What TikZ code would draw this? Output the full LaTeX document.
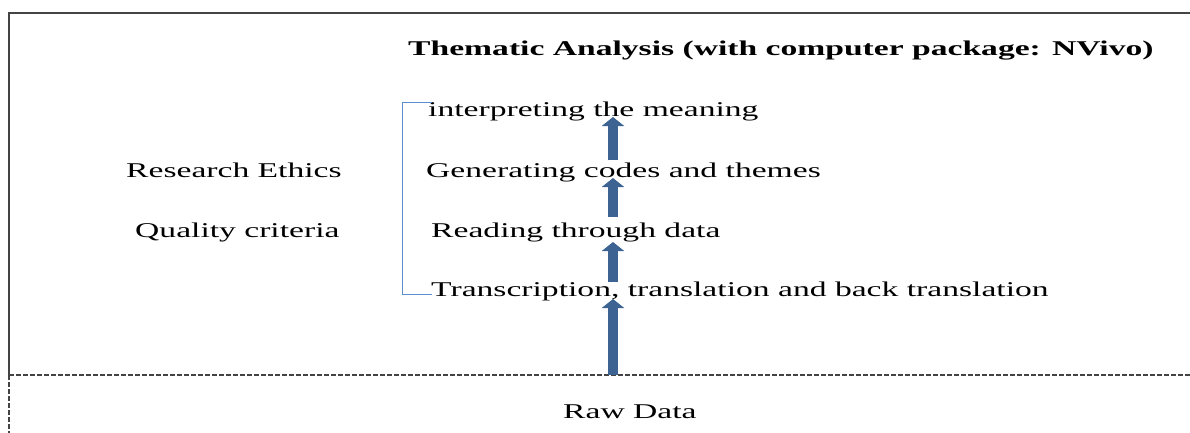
\documentclass[tikz,border=0pt]{standalone}
\usepackage{fontspec}
\setmainfont{Liberation Serif}[FakeStretch=1.6]
\usetikzlibrary{arrows.meta}
\definecolor{arrowblue}{HTML}{3D6392}
\definecolor{brackblue}{HTML}{5B8FD0}
\definecolor{frame}{HTML}{444444}
\tikzset{
  txt/.style={anchor=base west, inner sep=0pt, font=\fontsize{21}{25}\selectfont},
  ttl/.style={anchor=base west, inner sep=0pt, font=\fontsize{21}{25}\selectfont\bfseries},
  bigarrow/.style={draw=arrowblue, line width=10pt, -{Triangle[width=22pt,length=9pt]}},
  frameline/.style={draw=frame, line width=1.5pt},
  dashline/.style={draw=frame, line width=1.3pt, dash pattern=on 5pt off 2pt}
}
\begin{document}
\begin{tikzpicture}[x=1pt,y=1pt]
\useasboundingbox (0,0) rectangle (1190,-433);
% frame
\coordinate (tl) at (9,-13);
\coordinate (tr) at (1190,-13);
\coordinate (ml) at (9,-375);
\coordinate (mr) at (1190,-375);
\coordinate (bl) at (9,-433);
\draw[frameline] (tr) -- (tl) -- (ml);
\draw[dashline] (ml) -- (mr);
\draw[dashline] (ml) -- (bl);
% texts
\node[ttl] (title) at (408,-56) {Thematic Analysis (with computer package: NVivo)};
\node[txt] (s4) at (428,-117) {interpreting the meaning};
\node[txt] (s3) at (426,-177) {Generating codes and themes};
\node[txt] (s2) at (431,-237) {Reading through data};
\node[txt] (s1) at (431,-296) {Transcription, translation and back translation};
\node[txt] (eth) at (126,-177) {Research Ethics};
\node[txt] (qual) at (135,-237) {Quality criteria};
\node[txt] (raw) at (563,-418) {Raw Data};
% bracket
\coordinate (bt) at (432,-103);
\coordinate (bb) at (432,-294);
\draw[brackblue, line width=1pt] (bt) -- (402,-103) -- (402,-294) -- (bb);
% arrows
\coordinate (a0) at (613,-375);
\coordinate (a1) at (613,-299);
\coordinate (b0) at (613,-282);
\coordinate (b1) at (613,-242);
\coordinate (c0) at (613,-217);
\coordinate (c1) at (613,-178);
\coordinate (d0) at (613,-160);
\coordinate (d1) at (613,-117);
\draw[bigarrow] (a0) -- (a1);
\draw[bigarrow] (b0) -- (b1);
\draw[bigarrow] (c0) -- (c1);
\draw[bigarrow] (d0) -- (d1);
\end{tikzpicture}
\end{document}
